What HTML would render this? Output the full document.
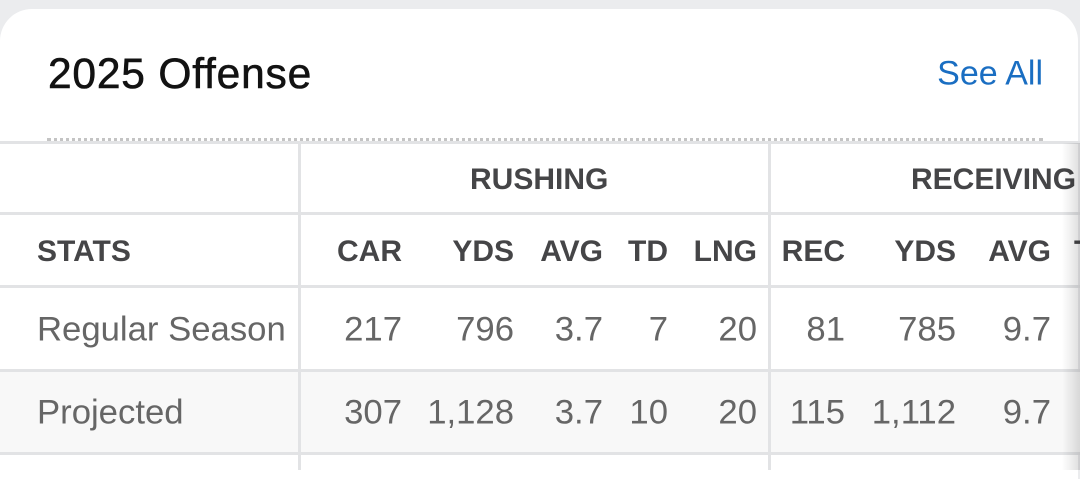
<!DOCTYPE html>
<html><head><meta charset="utf-8"><style>
body{margin:0;width:1080px;height:470px;background:#ebecee;overflow:hidden;font-family:"Liberation Sans",sans-serif;position:relative}
#card{position:absolute;left:0;top:9px;width:1078px;height:470px;background:#fff;border-radius:32px 32px 0 0;overflow:hidden}
.t{position:absolute;white-space:nowrap;transform:translateY(-50%)}
.r{text-align:right}
.h{font-weight:bold;color:#454547;font-size:30px}
.v{color:#666;font-size:34.7px}
.hl{position:absolute;left:0;width:1080px;height:3px;background:#e2e3e5}
.vl{position:absolute;width:3px;background:#e2e3e5}
</style></head><body>
<div id="card">
<div class="t" style="left:48px;top:66px;font-size:42.5px;color:#121212;-webkit-text-stroke:0.6px #121212;letter-spacing:0.8px">2025 Offense</div>
<div class="t" style="right:35px;top:65px;font-size:34px;color:#1a6ec2">See All</div>
<div style="position:absolute;left:47px;top:129px;width:996px;border-top:3px dotted #c4c4c4"></div>
</div>
<div>
<div style="position:absolute;left:0;top:370px;width:1080px;height:84px;background:#f8f8f8"></div>
<div class="hl" style="top:141px"></div>
<div class="hl" style="top:212px"></div>
<div class="hl" style="top:285px"></div>
<div class="hl" style="top:369px"></div>
<div class="hl" style="top:452px"></div>
<div class="vl" style="left:298px;top:141px;height:329px"></div>
<div class="vl" style="left:768px;top:141px;height:329px"></div>

<div class="t h" style="left:470px;top:180px">RUSHING</div>
<div class="t h" style="left:911px;top:180px">RECEIVING</div>

<div class="t h" style="left:37px;top:252px">STATS</div>
<div class="t h r" style="right:678px;top:252px">CAR</div>
<div class="t h r" style="right:566px;top:252px">YDS</div>
<div class="t h r" style="right:477px;top:252px">AVG</div>
<div class="t h r" style="right:412px;top:252px">TD</div>
<div class="t h r" style="right:323px;top:252px">LNG</div>
<div class="t h r" style="right:235px;top:252px">REC</div>
<div class="t h r" style="right:124px;top:252px">YDS</div>
<div class="t h r" style="right:29px;top:252px">AVG</div>
<div class="t h" style="left:1074px;top:252px">T</div>

<div class="t v" style="left:37px;top:330px">Regular Season</div>
<div class="t v r" style="right:678px;top:330px">217</div>
<div class="t v r" style="right:566px;top:330px">796</div>
<div class="t v r" style="right:477px;top:330px">3.7</div>
<div class="t v r" style="right:412px;top:330px">7</div>
<div class="t v r" style="right:323px;top:330px">20</div>
<div class="t v r" style="right:235px;top:330px">81</div>
<div class="t v r" style="right:124px;top:330px">785</div>
<div class="t v r" style="right:29px;top:330px">9.7</div>

<div class="t v" style="left:37px;top:413px">Projected</div>
<div class="t v r" style="right:678px;top:413px">307</div>
<div class="t v r" style="right:566px;top:413px">1,128</div>
<div class="t v r" style="right:477px;top:413px">3.7</div>
<div class="t v r" style="right:412px;top:413px">10</div>
<div class="t v r" style="right:323px;top:413px">20</div>
<div class="t v r" style="right:235px;top:413px">115</div>
<div class="t v r" style="right:124px;top:413px">1,112</div>
<div class="t v r" style="right:29px;top:413px">9.7</div>
</div>
<div style="position:absolute;left:1062px;top:143px;width:18px;height:327px;background:linear-gradient(90deg,rgba(0,0,0,0),rgba(0,0,0,0.13))"></div>
</body></html>
